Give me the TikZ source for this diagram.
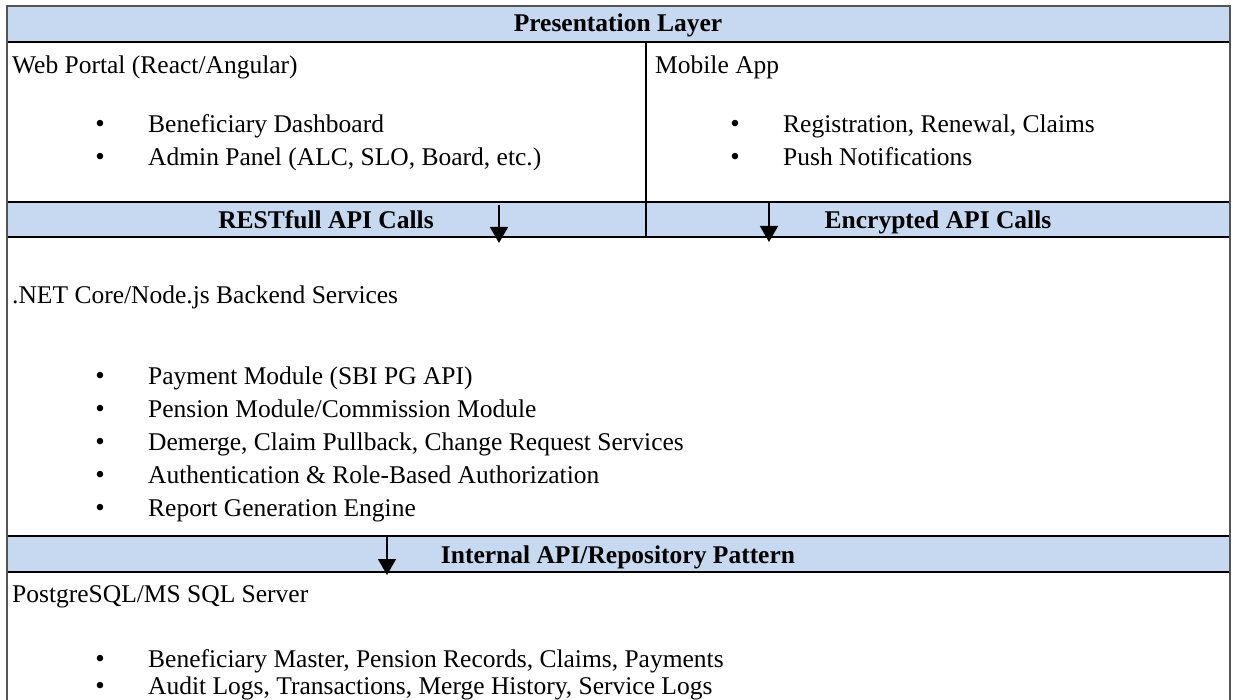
\documentclass[tikz,border=0pt]{standalone}
\usepackage{fontspec}
\setmainfont{Liberation Serif}
\usetikzlibrary{arrows.meta}
\definecolor{bandblue}{HTML}{C6D9F1}
\definecolor{framegrey}{HTML}{555555}
\begin{document}
\begin{tikzpicture}[x=1pt,y=-1pt,
  txt/.style={inner sep=0pt, anchor=base west, font=\fontsize{25.5}{30}\selectfont},
  bul/.style={inner sep=0pt, anchor=base, font=\fontsize{27}{30}\selectfont},
  hdr/.style={inner sep=0pt, anchor=base, font=\fontsize{25.5}{30}\selectfont\bfseries},
  rule/.style={draw=black, line width=1.2pt},
  frame/.style={draw=framegrey, line width=2.2pt},
  flow/.style={line width=1.4pt, -{Triangle[length=16pt,width=18pt]}}]
\useasboundingbox (0,0) rectangle (1233,700);
% bands
\fill[bandblue] (7,6) rectangle (1230,42);
\fill[bandblue] (7,202) rectangle (1230,237);
\fill[bandblue] (7,536) rectangle (1230,572);
% rules
\draw[rule] (7,42) -- (1230,42);
\draw[rule] (7,202) -- (1230,202);
\draw[rule] (7,237) -- (1230,237);
\draw[rule] (7,536) -- (1230,536);
\draw[rule] (7,572) -- (1230,572);
\draw[rule] (646,42) -- (646,237);
% frame
\draw[frame] (7,700) -- (7,6) -- (1230,6) -- (1230,700);
% header
\node[hdr] (hpres) at (618,32) {Presentation Layer};
% row 1
\node[txt] (web) at (12,74) {Web Portal (React/Angular)};
\node[bul] (wb1) at (100,133) {\textbullet};
\node[txt] (w1) at (148,133) {Beneficiary Dashboard};
\node[bul] (wb2) at (100,166) {\textbullet};
\node[txt] (w2) at (148,166) {Admin Panel (ALC, SLO, Board, etc.)};
\node[txt] (mob) at (655,74) {Mobile App};
\node[bul] (mb1) at (735,133) {\textbullet};
\node[txt] (m1) at (783,133) {Registration, Renewal, Claims};
\node[bul] (mb2) at (735,166) {\textbullet};
\node[txt] (m2) at (783,166) {Push Notifications};
% API band
\node[hdr] (rest) at (326,229) {RESTfull API Calls};
\node[hdr] (enc) at (938,229) {Encrypted API Calls};
\coordinate (a1s) at (499,205);
\coordinate (a1e) at (499,243);
\coordinate (a2s) at (769,202);
\coordinate (a2e) at (769,242);
\draw[flow] (a1s) -- (a1e);
\draw[flow] (a2s) -- (a2e);
% backend
\node[txt] (net) at (12,304) {.NET Core/Node.js Backend Services};
\node[bul] (nb1) at (100,384) {\textbullet};
\node[txt] (n1) at (148,384) {Payment Module (SBI PG API)};
\node[bul] (nb2) at (100,417) {\textbullet};
\node[txt] (n2) at (148,417) {Pension Module/Commission Module};
\node[bul] (nb3) at (100,450) {\textbullet};
\node[txt] (n3) at (148,450) {Demerge, Claim Pullback, Change Request Services};
\node[bul] (nb4) at (100,483) {\textbullet};
\node[txt] (n4) at (148,483) {Authentication \& Role-Based Authorization};
\node[bul] (nb5) at (100,516) {\textbullet};
\node[txt] (n5) at (148,516) {Report Generation Engine};
% internal band
\node[hdr] (intl) at (618,563) {Internal API/Repository Pattern};
\coordinate (a3s) at (387,536);
\coordinate (a3e) at (387,575);
\draw[flow] (a3s) -- (a3e);
% db
\node[txt] (db) at (12,602) {PostgreSQL/MS SQL Server};
\node[bul] (db1b) at (100,667) {\textbullet};
\node[txt] (db1) at (148,667) {Beneficiary Master, Pension Records, Claims, Payments};
\node[bul] (db2b) at (100,694) {\textbullet};
\node[txt] (db2) at (148,694) {Audit Logs, Transactions, Merge History, Service Logs};
\end{tikzpicture}
\end{document}
